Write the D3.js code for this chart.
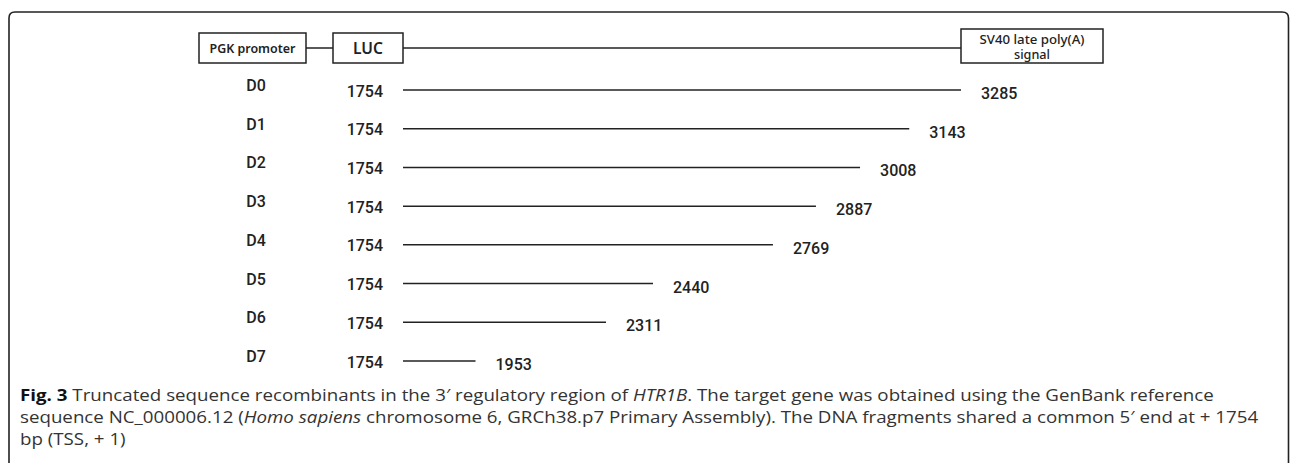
<!DOCTYPE html>
<html>
<head>
<meta charset="utf-8">
<script src="https://cdn.jsdelivr.net/npm/d3@7"></script>
<style>
  body { margin: 0; background: #fff; }
  svg { display: block; }
</style>
</head>
<body>
<div id="chart"></div>
<script>
// fragment names and their 5'/3' ends (bp)
const fragments = ['D0', 'D1', 'D2', 'D3', 'D4', 'D5', 'D6', 'D7'];
const startBp = [1754, 1754, 1754, 1754, 1754, 1754, 1754, 1754];
const endBp = [3285, 3143, 3008, 2887, 2769, 2440, 2311, 1953];

const promoterLabel = 'PGK promoter';
const reporterLabel = 'LUC';
const polyALabel = ['SV40 late poly(A)', 'signal'];

const W = 1290, H = 463;
const ink = '#222';

const svg = d3.select('#chart')
  .append('svg')
    .attr('width', W)
    .attr('height', H)
    .style('background-color', '#fff');

// outer frame, rounded top, open at the bottom
svg.append('path')
  .attr('d', 'M9,475 L9,18 Q9,12 15,12 L1282,12 Q1288.5,12 1288.5,18 L1288.5,475')
  .attr('fill', 'none')
  .attr('stroke', ink)
  .attr('stroke-width', 1.6);

// bp -> x, fragments -> y
const x = d3.scaleLinear()
  .domain([d3.min(startBp), d3.max(endBp)])
  .range([403, 961]);

const y = d3.scalePoint()
  .domain(fragments)
  .range([90, 361]);

// construct on top
const topY = 48;
const g = svg.append('g');

g.append('line')
  .attr('x1', 306).attr('x2', 333)
  .attr('y1', topY).attr('y2', topY)
  .attr('stroke', ink).attr('stroke-width', 1.5);

g.append('line')
  .attr('x1', x(d3.min(startBp))).attr('x2', x(d3.max(endBp)))
  .attr('y1', topY).attr('y2', topY)
  .attr('stroke', ink).attr('stroke-width', 1.5);

// PGK promoter box
g.append('rect')
  .attr('x', 199).attr('y', 33)
  .attr('width', 107).attr('height', 30)
  .attr('fill', '#fff').attr('stroke', ink).attr('stroke-width', 1.5);
g.append('text')
  .attr('x', 252.5).attr('y', 52.5)
  .attr('text-anchor', 'middle')
  .attr('font-family', 'Noto Sans, sans-serif')
  .attr('font-weight', 600)
  .attr('font-size', 12.5)
  .attr('textLength', 86)
  .attr('lengthAdjust', 'spacingAndGlyphs')
  .attr('fill', ink)
  .text(promoterLabel);

// LUC box, right edge sits at the common 5' end
g.append('rect')
  .attr('x', 333).attr('y', 33)
  .attr('width', x(d3.min(startBp)) - 333).attr('height', 30)
  .attr('fill', '#fff').attr('stroke', ink).attr('stroke-width', 1.5);
g.append('text')
  .attr('x', (333 + x(d3.min(startBp))) / 2).attr('y', 54)
  .attr('text-anchor', 'middle')
  .attr('font-family', 'Noto Sans, sans-serif')
  .attr('font-weight', 600)
  .attr('font-size', 16)
  .attr('textLength', 30)
  .attr('lengthAdjust', 'spacingAndGlyphs')
  .attr('fill', ink)
  .text(reporterLabel);

// SV40 box, left edge at the longest 3' end
const svX = x(d3.max(endBp));
g.append('rect')
  .attr('x', svX).attr('y', 29)
  .attr('width', 142).attr('height', 34)
  .attr('fill', '#fff').attr('stroke', ink).attr('stroke-width', 1.5);
g.selectAll('text.sv')
  .data(polyALabel)
  .enter()
  .append('text')
    .attr('class', 'sv')
    .attr('x', svX + 71)
    .attr('y', (d, i) => 43.5 + i * 15.5)
    .attr('text-anchor', 'middle')
    .attr('font-family', 'Noto Sans, sans-serif')
    .attr('font-weight', 500)
    .attr('font-size', 12.5)
    .attr('textLength', (d, i) => i === 0 ? 105 : 36)
    .attr('lengthAdjust', 'spacingAndGlyphs')
    .attr('fill', ink)
    .text(d => d);

// fragment rows
const rows = svg.selectAll('g.row')
  .data(fragments.map((name, i) => ({ name: name, start: startBp[i], end: endBp[i] })))
  .enter()
  .append('g')
    .attr('class', 'row');

const numFont = 'Roboto, Liberation Sans, Arial, sans-serif';

rows.append('text')
    .attr('x', 256)
    .attr('y', d => y(d.name) + 1)
    .attr('text-anchor', 'middle')
    .attr('font-family', numFont)
    .attr('font-weight', 500)
    .attr('font-size', 16)
    .attr('fill', ink)
    .text(d => d.name);

rows.append('text')
    .attr('x', 383)
    .attr('y', d => y(d.name) + 6.5)
    .attr('text-anchor', 'end')
    .attr('font-family', numFont)
    .attr('font-weight', 500)
    .attr('font-size', 16)
    .attr('fill', ink)
    .text(d => d.start);

rows.append('line')
    .attr('x1', d => x(d.start))
    .attr('x2', d => x(d.end))
    .attr('y1', d => y(d.name))
    .attr('y2', d => y(d.name))
    .attr('stroke', ink)
    .attr('stroke-width', 1.5);

rows.append('text')
    .attr('x', d => x(d.end) + 20)
    .attr('y', d => y(d.name) + 9)
    .attr('font-family', numFont)
    .attr('font-weight', 500)
    .attr('font-size', 16)
    .attr('fill', ink)
    .text(d => d.end);

// caption
const cap = svg.append('g')
  .attr('font-family', 'Open Sans, sans-serif')
  .attr('font-size', 16)
  .attr('fill', '#333');

const capLines = [
  [['Fig. 3', 'b'], [' Truncated sequence recombinants in the 3\u2032 regulatory region of ', ''], ['HTR1B', 'i'], ['. The target gene was obtained using the GenBank reference', '']],
  [['sequence NC_000006.12 (', ''], ['Homo sapiens', 'i'], [' chromosome 6, GRCh38.p7 Primary Assembly). The DNA fragments shared a common 5\u2032 end at + 1754', '']],
  [['bp (TSS, + 1)', '']]
];

const capTexts = cap.selectAll('text')
  .data(capLines)
  .enter()
  .append('text')
    .attr('x', 0)
    .attr('y', (d, i) => 401 + i * 22);

capTexts.selectAll('tspan')
  .data(d => d)
  .enter()
  .append('tspan')
    .attr('font-weight', d => d[1] === 'b' ? 700 : 400)
    .attr('font-style', d => d[1] === 'i' ? 'italic' : 'normal')
    .attr('fill', d => d[1] === 'b' ? '#111' : null)
    .text(d => d[0]);

// squeeze caption to the width of the original column
const capLeft = 20, capRight = 1215;
const w1 = capTexts.node().getComputedTextLength();
const k = (capRight - capLeft) / w1;
cap.attr('transform', `translate(${capLeft},0) scale(${k},1)`);
</script>
</body>
</html>
